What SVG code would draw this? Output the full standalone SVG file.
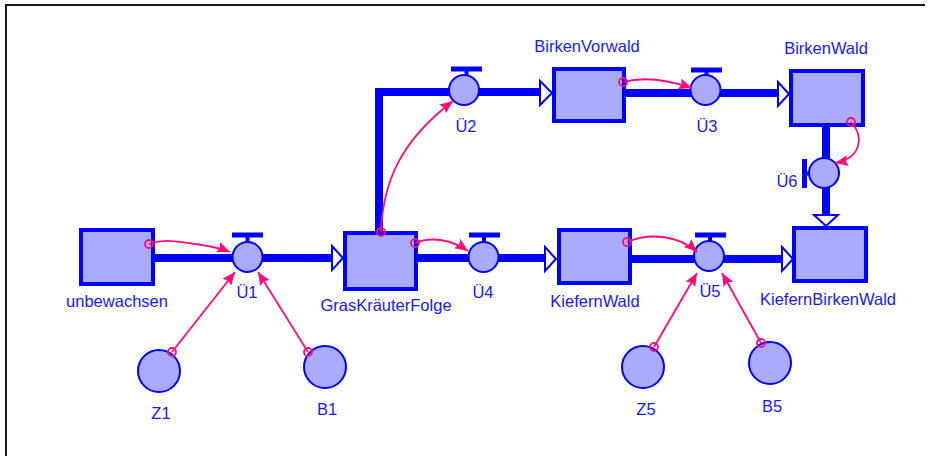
<svg xmlns="http://www.w3.org/2000/svg" width="935" height="456" viewBox="0 0 935 456">
  <style>
    .stock { fill: #aaaaff; stroke: #0000ff; stroke-width: 4; }
    .pipe { fill: none; stroke: #0000ff; stroke-width: 8; }
    .head { fill: #ffffff; stroke: #0000ff; stroke-width: 2; }
    .valve { fill: #aaaaff; stroke: #0000ff; stroke-width: 2; }
    .bar { fill: #0000ff; }
    .conv { fill: #aaaaff; stroke: #0000ff; stroke-width: 2; }
    .link { fill: none; stroke: #ff0a7a; stroke-width: 1.8; marker-end: url(#linkHead); }
    .src { fill: none; stroke: #ff0a7a; stroke-width: 1.8; }
    .lbl { font-family: "Liberation Sans", Arial, sans-serif; font-size: 16.5px; fill: #1818ff; text-anchor: middle; }
  </style>
  <defs>
    <marker id="linkHead" markerUnits="userSpaceOnUse" markerWidth="15" markerHeight="12" refX="13" refY="5.5" orient="auto">
      <path d="M0,0 L13,5.5 L0,11 L2,5.5 Z" fill="#ff0a7a"/>
    </marker>
  </defs>

  <rect width="935" height="456" fill="#ffffff"/>
  <!-- frame -->
  <path d="M6,456 V5 H925" fill="none" stroke="#1a1a1a" stroke-width="2"/>

  <!-- flow pipes and arrowheads -->
  <g id="flows">
    <path class="pipe" d="M155,258 H332"/>
    <polygon class="head" points="332,246 343,258 332,270"/>
    <path class="pipe" d="M417,258 H545"/>
    <polygon class="head" points="545,247 556,259 545,271"/>
    <path class="pipe" d="M632,259 H782"/>
    <polygon class="head" points="782,247 793,259 782,271"/>
    <path class="pipe" d="M379,232 V92 H540"/>
    <polygon class="head" points="540,81 552,93 540,105"/>
    <path class="pipe" d="M624,93 H778"/>
    <polygon class="head" points="778,82 789,94 778,106"/>
    <path class="pipe" d="M826,127 V215"/>
    <polygon class="head" points="814,215 826,226 838,215"/>
  </g>

  <!-- stocks -->
  <g id="unbewachsen">
    <rect class="stock" x="81" y="230" width="72" height="54"/>
    <text class="lbl" x="117" y="307">unbewachsen</text>
  </g>
  <g id="GrasKraeuterFolge">
    <rect class="stock" x="345" y="233" width="71" height="56"/>
    <text class="lbl" x="386" y="311">GrasKräuterFolge</text>
  </g>
  <g id="BirkenVorwald">
    <rect class="stock" x="554" y="69" width="70" height="52"/>
    <text class="lbl" x="587" y="52">BirkenVorwald</text>
  </g>
  <g id="BirkenWald">
    <rect class="stock" x="791" y="71" width="72" height="54"/>
    <text class="lbl" x="826" y="54">BirkenWald</text>
  </g>
  <g id="KiefernWald">
    <rect class="stock" x="559" y="230" width="71" height="53"/>
    <text class="lbl" x="595" y="307">KiefernWald</text>
  </g>
  <g id="KiefernBirkenWald">
    <rect class="stock" x="794" y="228" width="72" height="53"/>
    <text class="lbl" x="828" y="305">KiefernBirkenWald</text>
  </g>

  <!-- valves -->
  <g id="U1">
    <rect class="bar" x="232" y="232.5" width="31" height="5"/>
    <rect class="bar" x="245.5" y="237" width="4" height="6"/>
    <circle class="valve" cx="247.5" cy="257" r="15"/>
    <text class="lbl" x="247" y="298">Ü1</text>
  </g>
  <g id="U2">
    <rect class="bar" x="451" y="66.5" width="31" height="5"/>
    <rect class="bar" x="464.5" y="71" width="4" height="6"/>
    <circle class="valve" cx="464" cy="90" r="15"/>
    <text class="lbl" x="466" y="132">Ü2</text>
  </g>
  <g id="U3">
    <rect class="bar" x="691" y="67.5" width="31" height="5"/>
    <rect class="bar" x="704.5" y="72" width="4" height="6"/>
    <circle class="valve" cx="705.5" cy="90" r="15"/>
    <text class="lbl" x="707" y="132">Ü3</text>
  </g>
  <g id="U4">
    <rect class="bar" x="469" y="232.5" width="31" height="5"/>
    <rect class="bar" x="482" y="237" width="4" height="6"/>
    <circle class="valve" cx="483.5" cy="257" r="15"/>
    <text class="lbl" x="483" y="298">Ü4</text>
  </g>
  <g id="U5">
    <rect class="bar" x="695" y="232.5" width="31" height="5"/>
    <rect class="bar" x="708" y="237" width="4" height="6"/>
    <circle class="valve" cx="709" cy="256" r="15"/>
    <text class="lbl" x="710" y="297">Ü5</text>
  </g>
  <g id="U6">
    <rect class="bar" x="802" y="159" width="5" height="29"/>
    <rect class="bar" x="806" y="171.5" width="4" height="4"/>
    <circle class="valve" cx="824" cy="173" r="15"/>
    <text class="lbl" x="787" y="187">Ü6</text>
  </g>

  <!-- auxiliaries -->
  <g id="Z1">
    <circle class="conv" cx="159" cy="371" r="21"/>
    <text class="lbl" x="161" y="419">Z1</text>
  </g>
  <g id="B1">
    <circle class="conv" cx="325" cy="367" r="21"/>
    <text class="lbl" x="327" y="415">B1</text>
  </g>
  <g id="Z5">
    <circle class="conv" cx="643" cy="367" r="21"/>
    <text class="lbl" x="646" y="415">Z5</text>
  </g>
  <g id="B5">
    <circle class="conv" cx="770" cy="363" r="21"/>
    <text class="lbl" x="772" y="412">B5</text>
  </g>

  <!-- information links -->
  <g id="links">
    <path class="link" d="M149,244 C165,238 178,242 195,244 C210,246 220,248 230,252"/>
    <path class="link" d="M381,232 C383,180 402,140 453,101"/>
    <path class="link" d="M415,243 C432,236 452,240 468,251"/>
    <path class="link" d="M623,82 C645,76 668,80 692,88"/>
    <path class="link" d="M851,122 C864,136 862,158 835,163"/>
    <path class="link" d="M627,242 C650,232 680,236 697,252"/>
    <path class="link" d="M172,352 L235,272"/>
    <path class="link" d="M308,352 L258,272"/>
    <path class="link" d="M654,347 L697,273"/>
    <path class="link" d="M761,343 L722,273"/>
    <circle class="src" cx="149" cy="244" r="4"/>
    <circle class="src" cx="381" cy="232" r="4"/>
    <circle class="src" cx="415" cy="243" r="4"/>
    <circle class="src" cx="623" cy="82" r="4"/>
    <circle class="src" cx="851" cy="122" r="4"/>
    <circle class="src" cx="627" cy="242" r="4"/>
    <circle class="src" cx="172" cy="352" r="4"/>
    <circle class="src" cx="308" cy="352" r="4"/>
    <circle class="src" cx="654" cy="347" r="4"/>
    <circle class="src" cx="761" cy="343" r="4"/>
  </g>
</svg>
